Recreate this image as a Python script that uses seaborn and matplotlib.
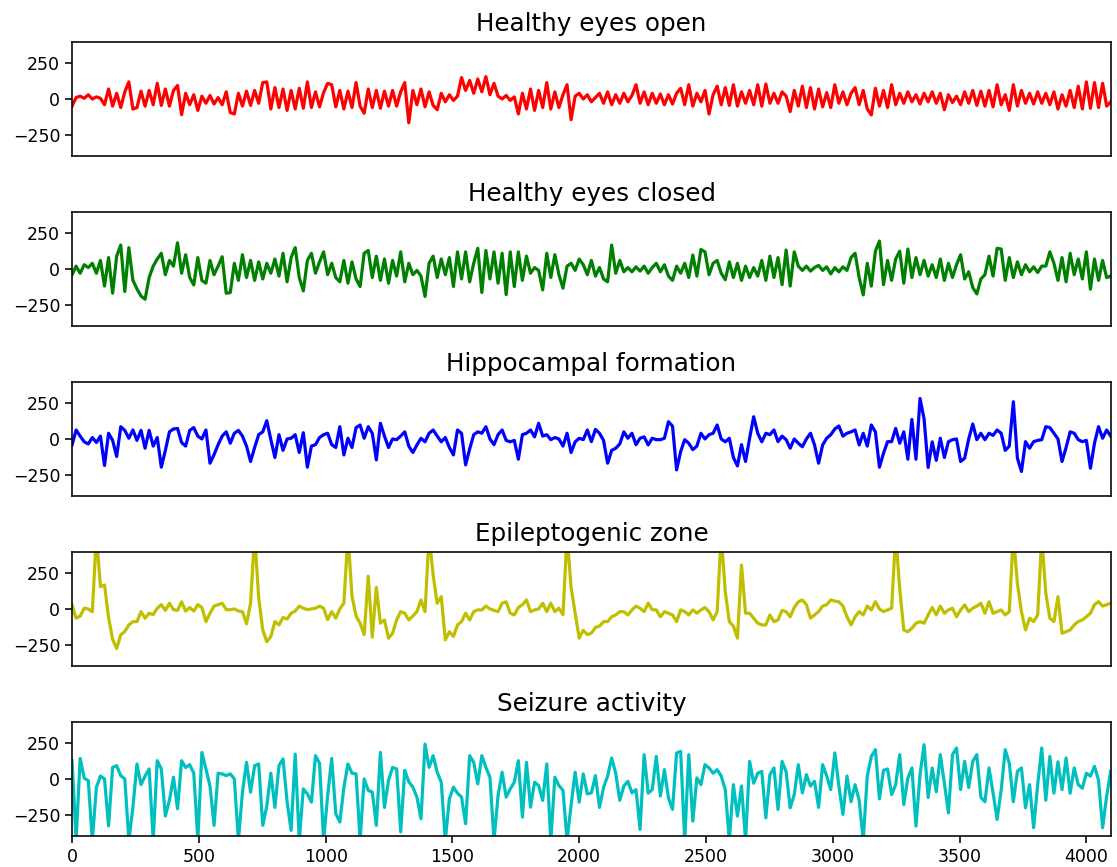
import numpy as np
import pandas as pd
import matplotlib
matplotlib.use("Agg")
import matplotlib.pyplot as plt
import seaborn as sns

titles = ["Healthy eyes open", "Healthy eyes closed", "Hippocampal formation",
          "Epileptogenic zone", "Seizure activity"]
colors = ["r", "g", "b", "y", "c"]
n_samples = 4097
yticks = [-250, 0, 250]
xticks = [0, 500, 1000, 1500, 2000, 2500, 3000, 3500, 4000]

# values, one every ~16 samples
eyes_open = [
    -50, 10, 20, 5, 30, 0, 15, 5, -40, 70, -50, 40, -60, 50, 120, -70,
    -60, 55, -50, 60, -40, 110, -45, 70, -50, 60, 95, -110, 40, -40, 30, -80,
    20, -30, 25, -35, 10, -40, 50, -95, -105, 40, -50, 55, -45, 60, -30, 115,
    120, -70, 80, -60, 70, -80, 60, -70, 75, -65, 120, -60, 50, -55, 45, 110,
    100, -55, 60, -70, 55, -60, 115, -50, -100, 70, -60, 60, -65, 55, -50, 60,
    -50, 50, 115, -167, 60, -40, 70, -55, 50, -45, -75, 40, -20, 30, -10, 20,
    150, 60, 130, 40, 140, 50, 157, 30, 110, 20, 0, 25, -10, 15, -105, 40,
    -70, 70, -80, 60, -60, 115, -70, 50, -60, 30, 100, -145, 20, 40, 0, 30,
    -20, 10, 40, -30, 50, -40, 30, -30, 40, -20, 25, 100, -30, 50, -40, 40,
    -30, 35, -40, 30, -35, 40, 75, -40, 100, -50, 40, -20, 60, -105, 30, 90,
    -40, 80, -45, 100, -50, 50, -30, 60, -40, 100, -50, 105, -30, 40, -30, 50,
    20, -88, 60, -50, 90, -60, 80, -70, 70, -55, 45, -60, 100, -30, 50, -40,
    40, 80, -40, 60, -70, -112, 75, -50, 60, -60, 100, -40, 40, -30, 50, -20,
    30, -35, 40, -20, 50, -30, 40, -75, 30, -25, 20, -40, 50, -30, 60, -45,
    55, -50, 60, -55, 100, -40, 30, -80, 100, -50, 60, -30, 40, -35, 50, -30,
    40, -40, 50, -70, 30, -50, 60, -60, 90, -70, 120, -65, 115, -60, 110, -50, -20,
]
eyes_closed = [
    -40, 20, -30, 30, 10, 40, -30, 60, -120, 80, -170, 90, 168, -158, 150, -80,
    -140, -190, -212, -60, 20, 70, 110, -40, 60, 20, 184, -30, 100, -60, -112, 80,
    -80, -100, 60, -40, 20, 86, -170, -165, 40, -80, 100, -60, 60, -80, 50, -70,
    40, -30, 70, -50, 110, -90, 80, 150, -60, -154, 60, 110, -30, 50, 120, -40,
    40, -60, -90, 60, -100, 50, -70, -123, 110, 130, -60, 90, -80, 70, -100, 60,
    -50, 120, -90, 40, -40, -10, -50, -193, 40, 90, -60, 70, -40, 80, -123, 120,
    -70, 120, -90, 40, 145, -165, 130, -70, 120, -100, 110, -180, 120, -123, 120, -80,
    90, -30, 10, -10, -147, 110, -60, 100, -40, -135, 20, 40, -10, 70, 30, -40,
    60, -50, 10, -70, -90, 168, -30, 60, -20, 10, -20, 15, -15, 20, -30, 10,
    40, -20, 30, -50, -80, 20, -30, 40, -60, 98, -50, 137, 120, -40, 40, 60,
    -30, -75, 50, -60, 40, -80, 20, -60, 10, -50, 60, -80, 90, -60, 80, -110,
    133, -120, 120, 20, -10, 20, -15, 10, 25, -10, 15, -35, 10, -20, 15, -10,
    80, 110, -60, -182, 40, -120, 125, 196, -110, 60, -80, 70, 125, -100, 140, -60,
    80, -40, 60, -50, 30, -60, 70, -80, 40, -60, 30, 100, -70, -20, -130, -175,
    -70, -40, 90, -50, 145, 140, -80, 80, -60, 50, -40, 30, -20, 15, -25, 20,
    20, 120, 40, -80, 80, -90, 110, -40, 70, -70, 120, -142, 70, -80, 60, -60, -50,
]
hippocampal = [
    -42, 63, 20, -20, -35, 10, -25, 20, -186, 40, -10, -123, 86, 60, 5, 63,
    -10, 60, -65, 60, -50, 10, -198, -80, 50, 70, 74, -25, -50, 60, 80, 20,
    0, 63, -170, -110, -40, 20, 50, -30, 40, 60, 20, -50, -158, -60, 30, 50,
    128, -5, -130, 30, -80, 0, 5, 30, -95, 44, -198, -50, -40, 10, 30, 40,
    -40, -60, 86, -112, 5, -60, 80, 98, 5, 86, 40, -147, 110, 20, -60, 0,
    -5, 20, 50, -50, -95, -42, 5, -20, 40, 63, 20, -20, 10, -60, -112, 63,
    40, -182, -70, 30, 50, 40, 86, 0, -40, 30, 63, -10, -20, -10, -142, 30,
    40, 63, 15, 110, 20, 30, -5, 10, 0, -50, 40, -95, -20, 5, -5, 63,
    -19, 67, 40, -10, -170, -80, -65, -35, 50, 5, 40, -40, 5, 15, -42, 5,
    -5, -5, 5, 121, 90, -217, -89, -5, -30, -75, -50, 40, 0, 30, 40, 98,
    0, -20, 5, -130, -189, -40, -158, 5, 156, 40, -20, 40, 30, 63, -19, 20,
    -5, -65, 0, -30, -55, 0, 40, -42, -170, -42, 5, 30, 70, 91, 20, 40,
    50, 63, -42, 40, -50, 98, 50, -198, -100, -19, -19, 74, -30, 50, -142, 137,
    -142, 284, 140, -200, -20, -150, 5, -130, -19, -5, 0, -158, -135, 0, 105, -5,
    40, -5, 40, 25, 63, 40, -80, -50, 261, -135, -228, -19, -65, -19, -10, -5,
    86, 80, 40, 0, -158, -60, 50, 40, -5, -19, -10, -205, -30, 86, 5, 63, 20,
]
epileptogenic = [
    28, -65, -50, 5, 0, -20, 520, 156, 168, -60, -214, -277, -182, -158, -112, -89,
    -89, -19, -65, -30, -40, 5, 30, -10, 40, -5, -10, 50, -15, 10, -15, 30,
    10, -89, -30, 20, 30, 40, -5, -5, 0, -15, -19, -105, 40, 520, 80, -147,
    -230, -193, -89, -112, -60, -70, -30, -15, 20, 5, -5, 0, 5, 20, 5, -75,
    -19, -65, 0, 40, 520, 90, -50, -100, -180, 230, -198, 151, -100, -77, -205, -170,
    -77, -19, -30, -77, -50, -19, 63, -19, 520, 237, 40, 86, -217, -160, -193, -112,
    -89, -30, -77, -19, -7, -7, 20, 0, -10, -19, 40, 50, -30, -42, 10, 30,
    63, -19, -7, 0, 40, -19, 40, -19, 5, -40, 520, 150, -30, -205, -150, -180,
    -170, -130, -120, -89, -89, -55, -42, -19, -19, -42, -7, 20, 5, -19, 40, -5,
    -7, -55, -19, -30, -42, -89, -7, -19, -42, -7, -30, -7, 10, -19, -77, -19,
    520, 120, -89, -120, -205, 307, -30, -30, -65, -100, -112, -112, -42, -89, -77, -10,
    -19, -55, 10, 50, 63, 30, -65, -42, -19, 20, 30, 63, 55, 50, 20, -55,
    -112, -55, -19, -42, 20, -7, 50, 0, -19, -7, 5, 520, 140, -147, -160, -135,
    -100, -89, -100, -42, 10, -42, 20, -30, -7, 5, -55, -7, 28, -19, 5, 20,
    40, -30, 50, -30, -19, -7, -42, -19, 520, 179, -20, -147, -65, -89, -42, 500,
    110, -65, -89, 86, -170, -160, -147, -112, -89, -77, -55, -30, 30, 51, 20, 30, 40,
]
seizure = [
    128, -430, 144, 5, -12, -430, -60, 20, 0, -330, 81, 93, 23, 0, -430, -200,
    105, -40, 20, 70, -430, 128, 70, -260, -150, 12, -209, 128, 80, 100, 40, -430,
    186, 70, -50, -326, 40, 35, 23, 35, 0, -430, -93, 116, -93, 93, 105, -326,
    -190, 40, -200, 93, 140, -160, -361, 174, -430, -70, -105, -163, 163, 110, -430, -116,
    144, -244, -302, -60, 105, 40, 35, -430, 0, -80, -93, -326, 186, -200, -10, 80,
    70, -372, 60, -20, -58, -128, -279, 244, 81, 163, 47, -23, -430, -140, -58, -100,
    -128, -314, 163, 116, -35, 163, 81, 12, -430, -116, 47, -128, -70, -23, 128, -268,
    116, -198, -23, -47, -151, 105, -430, 12, -47, -80, -430, -186, 47, -163, 35, -105,
    -98, 23, -200, -60, 20, 147, 40, -150, -50, -17, -98, -75, -354, 170, -100, -75,
    158, -120, 65, -133, -214, 182, 193, -430, 170, -296, 7, -40, 100, 77, 40, 65,
    20, -75, -430, -40, -261, -50, -430, 123, -30, 40, 53, -273, 30, 77, -214, 123,
    50, -203, -110, 100, -98, 30, -50, -17, -200, 100, 20, -75, 182, -50, -249, 20,
    -160, -40, -150, -430, 20, 158, 205, -140, 60, 70, -110, -40, 170, -180, 7, 77,
    -331, 30, 240, -130, 77, -90, 170, -30, -238, 170, 217, -75, 123, -60, 123, 170,
    -130, -160, 77, -98, -284, -80, 205, 110, -160, 53, 77, -203, -40, -342, -40, 217,
    -150, 158, -100, 120, -75, 147, -100, 77, -40, -65, 40, 20, 88, -10, -342, -120, 54,
]

series = [eyes_open, eyes_closed, hippocampal, epileptogenic, seizure]

fig, axes = plt.subplots(5, 1, figsize=(11.17, 8.67), dpi=100, sharex=True)
fig.subplots_adjust(left=0.0645, right=0.9946, top=0.9516, bottom=0.0358, hspace=0.49)

for i, (ax, vals, title, col) in enumerate(zip(axes, series, titles, colors)):
    df = pd.DataFrame({"sample": np.linspace(0, n_samples - 1, len(vals)),
                       "value": vals})
    sns.lineplot(data=df, x="sample", y="value", ax=ax, color=col,
                 linewidth=2.3, estimator=None, sort=False)
    ax.set_title(title, fontsize=17.7, pad=8)
    ax.set_xlim(0, n_samples)
    ax.set_ylim(-400, 400)
    ax.set_yticks(yticks)
    ax.set_xlabel("")
    ax.set_ylabel("")
    for sp in ax.spines.values():
        sp.set_linewidth(1.15)
        sp.set_color("black")
    ax.tick_params(axis="both", labelsize=12.5, length=5, width=1.15)
    if i < 4:
        ax.tick_params(axis="x", bottom=False, labelbottom=False)
    else:
        ax.set_xticks(xticks)

fig.savefig("out.png", dpi=100)
